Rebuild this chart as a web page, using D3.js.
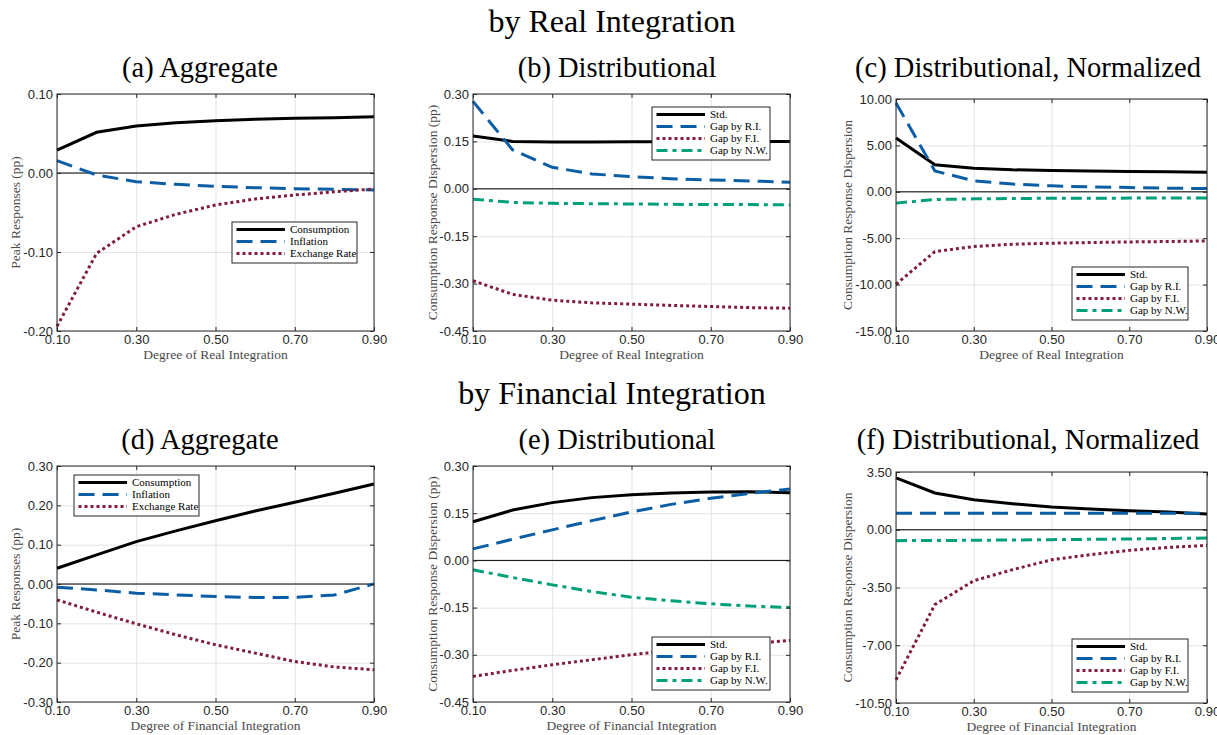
<!DOCTYPE html>
<html>
<head>
<meta charset="utf-8">
<script src="https://cdn.jsdelivr.net/npm/d3@7"></script>
<style>
  body { margin: 0; background: #fff; }
</style>
</head>
<body>
<script>
// Data
const xVals = [0.1, 0.2, 0.3, 0.4, 0.5, 0.6, 0.7, 0.8, 0.9];
const xTicks = [0.1, 0.3, 0.5, 0.7, 0.9];

// (a) aggregate, by real integration
const aConsumption = [0.029, 0.0515, 0.0595, 0.0637, 0.0662, 0.068, 0.0692, 0.070, 0.0713];
const aInflation = [0.0156, -0.0025, -0.011, -0.0143, -0.0169, -0.0186, -0.0198, -0.0207, -0.0215];
const aExchange = [-0.194, -0.1017, -0.068, -0.0523, -0.0405, -0.0329, -0.0278, -0.0237, -0.0203];
const aTicks = [-0.2, -0.1, 0, 0.1];

// (b) distributional, by real integration
const bStd = [0.167, 0.150, 0.148, 0.148, 0.149, 0.149, 0.150, 0.150, 0.150];
const bGapRI = [0.2765, 0.123, 0.068, 0.047, 0.0386, 0.032, 0.028, 0.025, 0.0208];
const bGapFI = [-0.291, -0.334, -0.3526, -0.361, -0.365, -0.369, -0.3726, -0.376, -0.378];
const bGapNW = [-0.033, -0.043, -0.046, -0.047, -0.048, -0.049, -0.050, -0.050, -0.051];
const bTicks = [-0.45, -0.30, -0.15, 0, 0.15, 0.30];

// (c) distributional normalized, by real integration
const cStd = [5.79, 2.91, 2.55, 2.37, 2.30, 2.23, 2.19, 2.16, 2.12];
const cGapRI = [9.57, 2.25, 1.18, 0.83, 0.64, 0.53, 0.46, 0.39, 0.35];
const cGapFI = [-9.96, -6.44, -5.90, -5.65, -5.54, -5.47, -5.40, -5.36, -5.29];
const cGapNW = [-1.22, -0.83, -0.76, -0.72, -0.70, -0.69, -0.68, -0.68, -0.67];
const cTicks = [-15, -10, -5, 0, 5, 10];

// (d) aggregate, by financial integration
const dConsumption = [0.040, 0.074, 0.1078, 0.135, 0.161, 0.1857, 0.2078, 0.2306, 0.2543];
const dInflation = [-0.008, -0.015, -0.0233, -0.0276, -0.0318, -0.0343, -0.034, -0.028, 0.0004];
const dExchange = [-0.0403, -0.0716, -0.1012, -0.129, -0.1545, -0.1757, -0.197, -0.211, -0.218];
const dTicks = [-0.3, -0.2, -0.1, 0, 0.1, 0.2, 0.3];

// (e) distributional, by financial integration
const eStd = [0.123, 0.160, 0.1836, 0.1995, 0.209, 0.2143, 0.2175, 0.2185, 0.2153];
const eGapRI = [0.0366, 0.0673, 0.097, 0.1264, 0.154, 0.178, 0.1975, 0.2133, 0.227];
const eGapFI = [-0.3686, -0.3496, -0.3316, -0.3157, -0.2998, -0.286, -0.275, -0.264, -0.2543];
const eGapNW = [-0.030, -0.0544, -0.0777, -0.099, -0.1168, -0.1284, -0.138, -0.1453, -0.1496];
const eTicks = [-0.45, -0.30, -0.15, 0, 0.15, 0.30];

// (f) distributional normalized, by financial integration
const fStd = [3.14, 2.23, 1.82, 1.58, 1.38, 1.26, 1.15, 1.07, 0.95];
const fGapRI = [1.0, 1.0, 1.0, 1.0, 1.0, 1.0, 1.0, 1.0, 1.0];
const fGapFI = [-9.09, -4.54, -3.09, -2.42, -1.82, -1.51, -1.25, -1.07, -0.95];
const fGapNW = [-0.66, -0.65, -0.64, -0.62, -0.60, -0.58, -0.56, -0.53, -0.50];
const fTicks = [-10.5, -7, -3.5, 0, 3.5];

const legendAgg = ["Consumption", "Inflation", "Exchange Rate"];
const legendDist = ["Std.", "Gap by R.I.", "Gap by F.I.", "Gap by N.W."];

// line styles, in legend order
const black = { color: "#000000", dash: null };
const blue = { color: "#0b5ea6", dash: "16,8" };
const red = { color: "#801c3e", dash: "3,3" };
const green = { color: "#00a07a", dash: "11,5,4,5" };

const serif = "'Liberation Serif', 'Times New Roman', serif";
const sans = "'Liberation Sans', Arial, sans-serif";
const axisColor = "#262626";

let svg = d3.select("body").append("svg")
  .attr("width", 1217)
  .attr("height", 735);

// row titles
svg.append("text")
  .attr("x", 612).attr("y", 32)
  .attr("text-anchor", "middle")
  .style("font-family", serif).style("font-size", "32px")
  .text("by Real Integration");
svg.append("text")
  .attr("x", 612).attr("y", 404)
  .attr("text-anchor", "middle")
  .style("font-family", serif).style("font-size", "32px")
  .text("by Financial Integration");

const panels = [
  { title: "(a) Aggregate", tx: 200, ty: 77, left: 57, right: 374, top: 94, bottom: 331,
    ticks: aTicks, ylabel: "Peak Responses (pp)", ylx: 15, xlabel: "Degree of Real Integration",
    series: [aConsumption, aInflation, aExchange], styles: [black, blue, red],
    legend: legendAgg, lg: { x: 232, y: 222, w: 125 } },
  { title: "(b) Distributional", tx: 617, ty: 77, left: 473, right: 790, top: 94, bottom: 331,
    ticks: bTicks, ylabel: "Consumption Response Dispersion (pp)", ylx: 432, xlabel: "Degree of Real Integration",
    series: [bStd, bGapRI, bGapFI, bGapNW], styles: [black, blue, red, green],
    legend: legendDist, lg: { x: 652, y: 107, w: 118 } },
  { title: "(c) Distributional, Normalized", tx: 1028, ty: 77, left: 896, right: 1207, top: 99, bottom: 331,
    ticks: cTicks, ylabel: "Consumption Response Dispersion", ylx: 847, xlabel: "Degree of Real Integration",
    series: [cStd, cGapRI, cGapFI, cGapNW], styles: [black, blue, red, green],
    legend: legendDist, lg: { x: 1072, y: 267, w: 116 } },
  { title: "(d) Aggregate", tx: 200, ty: 449, left: 57, right: 374, top: 466, bottom: 702,
    ticks: dTicks, ylabel: "Peak Responses (pp)", ylx: 15, xlabel: "Degree of Financial Integration",
    series: [dConsumption, dInflation, dExchange], styles: [black, blue, red],
    legend: legendAgg, lg: { x: 74, y: 475, w: 125 } },
  { title: "(e) Distributional", tx: 617, ty: 449, left: 473, right: 790, top: 466, bottom: 702,
    ticks: eTicks, ylabel: "Consumption Response Dispersion (pp)", ylx: 432, xlabel: "Degree of Financial Integration",
    series: [eStd, eGapRI, eGapFI, eGapNW], styles: [black, blue, red, green],
    legend: legendDist, lg: { x: 652, y: 637, w: 118 } },
  { title: "(f) Distributional, Normalized", tx: 1028, ty: 449, left: 896, right: 1207, top: 472, bottom: 703,
    ticks: fTicks, ylabel: "Consumption Response Dispersion", ylx: 847, xlabel: "Degree of Financial Integration",
    series: [fStd, fGapRI, fGapFI, fGapNW], styles: [black, blue, red, green],
    legend: legendDist, lg: { x: 1072, y: 639, w: 116 } }
];

panels.forEach(drawPanel);

function drawPanel(p) {
  let g = svg.append("g");
  let xScale = d3.scaleLinear().domain([0.1, 0.9]).range([p.left, p.right]);
  let yScale = d3.scaleLinear().domain(d3.extent(p.ticks)).range([p.bottom, p.top]);
  let w = p.right - p.left;
  let h = p.bottom - p.top;
  let fmt = (d) => d.toFixed(2);

  // grid
  let gx = g.append("g")
    .attr("transform", "translate(0," + p.bottom + ")")
    .call(d3.axisBottom(xScale).tickValues(xTicks).tickSize(-h).tickFormat(""));
  let gy = g.append("g")
    .attr("transform", "translate(" + p.left + ",0)")
    .call(d3.axisLeft(yScale).tickValues(p.ticks).tickSize(-w).tickFormat(""));
  [gx, gy].forEach((a) => {
    a.select(".domain").remove();
    a.selectAll("line").attr("stroke", "#e3e3e3").attr("stroke-width", 1);
  });

  // zero line
  g.append("line")
    .attr("x1", p.left).attr("x2", p.right)
    .attr("y1", yScale(0)).attr("y2", yScale(0))
    .attr("stroke", "#000").attr("stroke-width", 1);

  // series
  let line = d3.line()
    .x((d, i) => xScale(xVals[i]))
    .y((d) => yScale(d));
  p.series.forEach((s, k) => {
    g.append("path")
      .datum(s)
      .attr("d", line)
      .attr("fill", "none")
      .attr("stroke", p.styles[k].color)
      .attr("stroke-width", 3)
      .attr("stroke-dasharray", p.styles[k].dash);
  });

  // box
  g.append("rect")
    .attr("x", p.left).attr("y", p.top)
    .attr("width", w).attr("height", h)
    .attr("fill", "none").attr("stroke", axisColor).attr("stroke-width", 1);

  // axes with inward ticks
  let axes = [
    g.append("g").attr("transform", "translate(0," + p.bottom + ")")
      .call(d3.axisBottom(xScale).tickValues(xTicks).tickSize(-4).tickPadding(4).tickFormat(fmt)),
    g.append("g").attr("transform", "translate(0," + p.top + ")")
      .call(d3.axisTop(xScale).tickValues(xTicks).tickSize(-4).tickFormat("")),
    g.append("g").attr("transform", "translate(" + p.left + ",0)")
      .call(d3.axisLeft(yScale).tickValues(p.ticks).tickSize(-4).tickPadding(4).tickFormat(fmt)),
    g.append("g").attr("transform", "translate(" + p.right + ",0)")
      .call(d3.axisRight(yScale).tickValues(p.ticks).tickSize(-4).tickFormat(""))
  ];
  axes.forEach((a) => {
    a.select(".domain").remove();
    a.selectAll("line").attr("stroke", axisColor);
    a.selectAll("text")
      .attr("fill", axisColor)
      .style("font-family", sans)
      .style("font-size", "13px");
  });

  // labels
  svg.append("text")
    .attr("x", p.tx).attr("y", p.ty)
    .attr("text-anchor", "middle")
    .style("font-family", serif).style("font-size", "28.5px")
    .text(p.title);

  svg.append("text")
    .attr("x", (p.left + p.right) / 2).attr("y", p.bottom + 28)
    .attr("text-anchor", "middle")
    .attr("fill", "#4a4a4a")
    .style("font-family", serif).style("font-size", "13.5px")
    .text(p.xlabel);

  svg.append("text")
    .attr("transform", "translate(" + p.ylx + "," + (p.top + p.bottom) / 2 + ")rotate(-90)")
    .attr("text-anchor", "middle")
    .attr("dy", "0.35em")
    .attr("fill", "#4a4a4a")
    .style("font-family", serif).style("font-size", "13.5px")
    .text(p.ylabel);

  // legend
  let n = p.legend.length;
  let lg = g.append("g").attr("transform", "translate(" + p.lg.x + "," + p.lg.y + ")");
  lg.append("rect")
    .attr("width", p.lg.w).attr("height", n * 12 + 5)
    .attr("fill", "#fff").attr("stroke", axisColor).attr("stroke-width", 1);
  p.legend.forEach((label, k) => {
    let yy = 7.5 + k * 12;
    lg.append("line")
      .attr("x1", 4.5).attr("x2", 53)
      .attr("y1", yy).attr("y2", yy)
      .attr("stroke", p.styles[k].color)
      .attr("stroke-width", 3)
      .attr("stroke-dasharray", p.styles[k].dash);
    lg.append("text")
      .attr("x", 58).attr("y", yy)
      .attr("dy", "0.35em")
      .style("font-family", serif).style("font-size", "11px")
      .text(label);
  });
}
</script>
</body>
</html>
